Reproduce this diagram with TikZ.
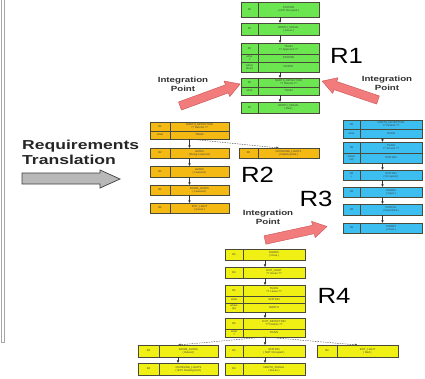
\documentclass[tikz,border=0pt]{standalone}
\usepackage{fontspec}
\setmainfont{Liberation Sans}
\usetikzlibrary{arrows.meta}

\definecolor{rgreen}{HTML}{6BE650}
\definecolor{rorange}{HTML}{F5B914}
\definecolor{rblue}{HTML}{3CBEF0}
\definecolor{ryellow}{HTML}{F0F014}
\definecolor{boxline}{HTML}{4A4A3A}
\definecolor{pinkfill}{HTML}{F27C7C}
\definecolor{pinkline}{HTML}{C85050}
\definecolor{greyfill}{HTML}{B8B8B8}
\colorlet{cellfill}{rgreen}

% one row of a requirement box: name, x-left, x-split, x-right, y-top, y-bottom, tag, content
\newcommand\cellrow[8]{%
  \node[cellbox, minimum width={(#3-#2)*1pt}, minimum height={(#6-#5)*1pt}]
    (#1l) at ({(#2+#3)/2},{(#5+#6)/2}) {#7};
  \node[cellbox, minimum width={(#4-#3)*1pt}, minimum height={(#6-#5)*1pt}]
    (#1) at ({(#3+#4)/2},{(#5+#6)/2}) {#8};
  \coordinate (#1n) at ({(#2+#4)/2},#5);
  \coordinate (#1s) at ({(#2+#4)/2},#6);
}

% block arrow: tail x, tail y, angle, length
\newcommand\blockarrow[4]{%
  \begin{scope}[shift={(#1,#2)},rotate=#3]
    \draw[pinkarrow] (0,-4.3) -- ({#4-14},-4.3) -- ({#4-14},-8.3) -- (#4,0)
      -- ({#4-14},8.3) -- ({#4-14},4.3) -- (0,4.3) -- cycle;
  \end{scope}
}

\tikzset{
  cellbox/.style={draw=boxline, line width=0.4pt, fill=cellfill, inner sep=0pt,
    outer sep=0pt, align=center, text=black!75, font=\fontsize{2.7}{3.0}\selectfont},
  conn/.style={draw=black!80, line width=0.7pt, -{Latex[length=2.6pt,width=2.6pt]}},
  dconn/.style={draw=black!70, line width=0.4pt, dashed, dash pattern=on 1.5pt off 1pt,
    -{Latex[length=2.6pt,width=2.6pt]}},
  rlabel/.style={font=\fontsize{22}{24}\selectfont, inner sep=0pt},
  ilabel/.style={font=\bfseries\fontsize{7.5}{8.6}\selectfont, align=center, inner sep=0pt, text=black!80},
  pinkarrow/.style={fill=pinkfill, draw=pinkline, line width=0.4pt, line join=round},
  greyarrow/.style={fill=greyfill, draw=black!75, line width=0.7pt},
}

\begin{document}
\begin{tikzpicture}[x=1pt,y=-1pt]
\useasboundingbox (0,0) rectangle (425,378);
\fill[white] (0,0) rectangle (425,378);

% page edge on the left
\draw[black!35, line width=0.5pt] (1.5,-2) -- (1.5,342) -- (4,342) -- (4,-2);

% ---------- R1 ----------
\colorlet{cellfill}{rgreen}
\cellrow{g1}{241}{258}{319}{2}{17}{R1}{STATION\\( NOT Occupied )}
\cellrow{g2}{241}{258}{319}{23}{35}{R1}{NORTH\_SIGNAL\\( Green )}
\cellrow{g3a}{241}{258}{319}{43}{54}{R1}{TRAIN\\?? Approach ??}
\cellrow{g3b}{241}{258}{319}{54}{62}{what\\?}{STATION}
\cellrow{g3c}{241}{258}{319}{62}{72}{where\\(from)}{NORTH}
\cellrow{g4a}{241}{258}{319}{78}{87}{R1}{NORTH\_DETECTION\\?? Detects ??}
\cellrow{g4b}{241}{258}{319}{87}{95}{what}{TRAIN}
\cellrow{g5}{241}{258}{319}{102}{113}{R1}{NORTH\_SIGNAL\\( Red )}
\draw[conn] (g1s) -- (g2n);
\draw[conn] (g2s) -- (g3an);
\draw[conn] (g3cs) -- (g4an);
\draw[conn] (g4bs) -- (g5n);

% ---------- R2 ----------
\colorlet{cellfill}{rorange}
\cellrow{o1a}{150}{170}{229}{122}{131}{R2}{NORTH\_DETECTION\\?? Detects ??}
\cellrow{o1b}{150}{170}{229}{131}{139}{what}{TRAIN}
\cellrow{o2}{150}{170}{229}{148}{158}{R2}{GATES\\( Being Lowered )}
\cellrow{os}{239}{258}{319}{148}{158}{R2}{CROSSING\_LIGHTS\\( Flashing Red )}
\cellrow{o3}{150}{170}{229}{166}{177}{R2}{GATES\\( Lowered )}
\cellrow{o4}{150}{170}{229}{185}{195}{R2}{BOOM\_GATES\\( Lowered )}
\cellrow{o5}{150}{170}{229}{203}{213}{R2}{EXIT\_LIGHT\\( Green )}
\draw[conn] (o1bs) -- (o2n);
\draw[dconn] (o1bs) -- (osn);
\draw[conn] (o2s) -- (o3n);
\draw[conn] (o3s) -- (o4n);
\draw[conn] (o4s) -- (o5n);

% ---------- R3 ----------
\colorlet{cellfill}{rblue}
\cellrow{b1a}{343}{360}{422}{120}{129}{R3}{NORTH\_DETECTION\\?? Detects ??}
\cellrow{b1b}{343}{360}{422}{129}{138}{what}{TRAIN}
\cellrow{b2a}{343}{360}{422}{142}{153}{R3}{TRAIN\\?? Arrives ??}
\cellrow{b2b}{343}{360}{422}{153}{163}{where\\(at)}{STATION}
\cellrow{b3}{343}{360}{422}{170}{180}{R3\\+}{STATION\\( Occupied )}
\cellrow{b4}{343}{360}{422}{187}{197}{R3}{DOORS\\( Open )}
\cellrow{b5}{343}{360}{422}{204}{215}{R3}{PEOPLE\\( Disembark )}
\cellrow{b6}{343}{360}{422}{223}{233}{R3}{DOORS\\( Close )}
\draw[conn] (b1bs) -- (b2an);
\draw[conn] (b2bs) -- (b3n);
\draw[conn] (b3s) -- (b4n);
\draw[conn] (b4s) -- (b5n);
\draw[conn] (b5s) -- (b6n);

% ---------- R4 ----------
\colorlet{cellfill}{ryellow}
\cellrow{y1}{225}{243}{305}{249}{260}{R4}{DOORS\\( Close )}
\cellrow{y2}{225}{243}{305}{267}{278}{R4}{EXIT\_LIGHT\\?? Green ??}
\cellrow{y3a}{225}{243}{305}{285}{296}{R4}{TRAIN\\?? Leave ??}
\cellrow{y3b}{225}{243}{305}{296}{303}{what}{STATION}
\cellrow{y3c}{225}{243}{305}{303}{312}{where\\(to)}{NORTH}
\cellrow{y4a}{225}{243}{305}{318}{329}{R4}{EXIT\_DETECTION\\?? Detects ??}
\cellrow{y4b}{225}{243}{305}{329}{337}{what\\?}{TRAIN}
\cellrow{yl}{138}{159}{218}{345}{357}{R4}{BOOM\_GATES\\( Raised )}
\cellrow{ym}{225}{243}{305}{345}{357}{R4}{STATION\\( NOT Occupied )}
\cellrow{yr}{317}{337}{398}{345}{357}{R4}{EXIT\_LIGHT\\( Red )}
\cellrow{yl2}{138}{159}{218}{363}{375}{R4}{CROSSING\_LIGHTS\\( NOT Flashing Red )}
\cellrow{ym2}{225}{243}{305}{363}{375}{R4}{NORTH\_SIGNAL\\( Green )}
\draw[conn] (y1s) -- (y2n);
\draw[conn] (y2s) -- (y3an);
\draw[conn] (y3cs) -- (y4an);
\draw[conn] (y4bs) -- (ymn);
\draw[dconn] (y4bs) -- (yln);
\draw[dconn] (y4bs) -- (yrn);
\draw[conn] (yls) -- (yl2n);
\draw[conn] (yms) -- (ym2n);

% ---------- group labels ----------
\node[rlabel] (lr1) at (346.5,56) {\scalebox{1.17}[1]{R1}};
\node[rlabel] (lr2) at (257.5,175) {\scalebox{1.17}[1]{R2}};
\node[rlabel] (lr3) at (316,198.5) {\scalebox{1.17}[1]{R3}};
\node[rlabel] (lr4) at (334,296) {\scalebox{1.17}[1]{R4}};

% ---------- integration points ----------
\node[ilabel] (ip1) at (183,84.5) {\scalebox{1.3}[1]{Integration}\\\scalebox{1.3}[1]{Point}};
\node[ilabel] (ip2) at (387,83.5) {\scalebox{1.3}[1]{Integration}\\\scalebox{1.3}[1]{Point}};
\node[ilabel] (ip3) at (268,217.5) {\scalebox{1.3}[1]{Integration}\\\scalebox{1.3}[1]{Point}};
\blockarrow{180}{106}{20.1}{64}
\blockarrow{378}{100}{161.3}{59}
\blockarrow{265}{240}{12.3}{63.5}

% ---------- requirements translation ----------
\node[anchor=base west, inner sep=0pt, font=\bfseries\fontsize{13}{15}\selectfont, text=black!85]
  (rq1) at (22,149.5) {\scalebox{1.35}[1]{Requirements}};
\node[anchor=base west, inner sep=0pt, font=\bfseries\fontsize{13}{15}\selectfont, text=black!85]
  (rq2) at (22,164.5) {\scalebox{1.35}[1]{Translation}};
\draw[greyarrow] (22,173) -- (100,173) -- (100,170) -- (120,179) -- (100,188)
  -- (100,184) -- (22,184) -- cycle;
\end{tikzpicture}
\end{document}
